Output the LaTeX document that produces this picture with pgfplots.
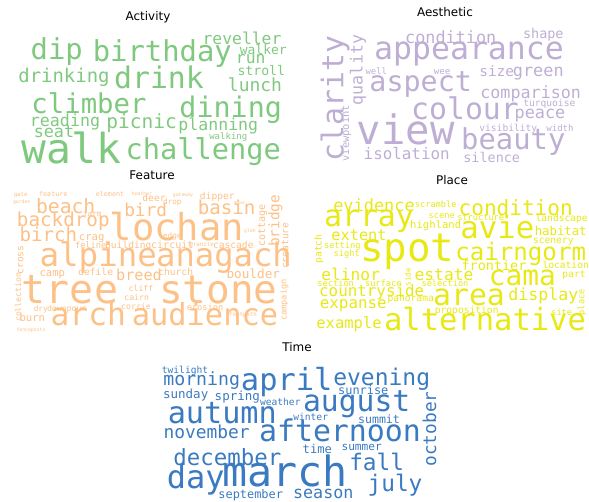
\documentclass[border=0pt]{standalone}
\usepackage{fontspec}
\setmainfont{DejaVu Sans}
\newfontfamily\wcfont{DejaVu Sans Mono}
\usepackage{pgfplots}
\usepackage{pgfplotstable}
\pgfplotsset{compat=1.18}
\definecolor{cA}{RGB}{127,201,127}
\definecolor{cB}{RGB}{190,174,212}
\definecolor{cC}{RGB}{253,192,134}
\definecolor{cD}{RGB}{232,232,20}
\definecolor{cE}{RGB}{58,122,192}

\pgfplotstableread{
x y s r w
56.7 60 30 0 dip
162.3 61.7 30 0 birthday
242 44.3 17 0 reveller
263.3 55 13.5 0 walker
250.7 64 17 0 run
64 82.3 19.7 0 drinking
159 88.3 31 0 drink
261.3 75.7 13.7 0 stroll
255 91.7 18.7 0 lunch
89 113.3 28.4 0 climber
230.7 117.7 29.5 0 dining
65 126.7 17.3 0 reading
141.7 128.3 20.3 0 picnic
218.3 131 17.2 0 planning
54 137.7 17.4 0 seat
228.3 140 9.4 0 walking
71.7 163.3 43 0 walk
203.3 160 29.8 0 challenge
}\tabActivity

\pgfplotstableread{
x y s r w
343.3 98.3 31 90 clarity
362.5 70 17.3 90 quality
450.7 43.3 17.5 0 condition
543.3 39 14 0 shape
469 60 32.8 0 appearance
376.3 75 9.2 0 well
442 75 9.5 0 wee
496.7 76.7 15 0 size
538.3 76.7 17.5 0 green
420.7 91.7 29.5 0 aspect
530.7 98.3 17.4 0 comparison
549.3 106.7 10 0 turquoise
465 120 31 0 colour
540 118.3 17.5 0 peace
349 133.3 10.8 90 viewpoint
405.7 145 42.2 0 view
508.3 131.7 10 0 visibility
560 131.7 9.4 0 width
513.3 150 30 0 beauty
406.7 160 16.5 0 isolation
491.7 162.3 14 0 silence
}\tabAesthetic

\pgfplotstableread{
x y s r w
176.7 240 38.6 0 lochan
65.7 213.3 20.5 0 beach
145.7 216.7 18.5 0 bird
226.7 214.3 19.9 0 basin
63.3 226.7 20 0 backdrop
48.3 241.7 19.9 0 birch
279.3 220.7 15 90 bridge
265 225.7 10.5 90 cottage
288.3 245.7 10 90 creature
98.3 266.7 33.8 0 alpine
224 266.7 33.5 0 anagach
91.7 240 11 0 crag
90.7 248.3 9 0 feline
128.3 248.3 10 0 building
172.3 248.3 10.5 0 circuit
233.3 248.3 10 0 cascade
23.3 260 10 90 cross
21 297.3 8.5 90 collection
52.3 276.7 11 0 camp
95.7 275.7 10 0 defile
139 280 15.8 0 breed
175.7 275 10 0 church
253.3 278.3 13.2 0 boulder
70 303.3 41.5 0 tree
218.3 303.3 40.9 0 stone
141 291 8.5 0 cliff
136.7 300 8.5 0 cairn
136 309 8.5 0 corrie
286.7 300 9 90 campaign
40.7 311 8 0 dry
66.7 311 8.5 0 downpour
205 310 9 0 erosion
32.3 321.7 11 0 burn
88.3 325 32.6 0 arch
205 325 31.6 0 audience
53.3 196.7 7 0 feature
110 196.7 7 0 element
154 201.7 10 0 deer
217.3 200 10 0 dipper
92.3 216.7 8 0 farm
172.3 238.3 8 0 edge
172.3 205 8 0 drop
20.7 197 6 0 gate
21.7 204 5 0 garden
142 196 5 0 heather
183 197 5 0 gateway
201.7 246.5 6 0 granite
31 331 5 0 fenceposts
243 316.7 6 0 footpath
240 205 5 0 moor
250 232 5 0 glen
}\tabFeature

\pgfplotstableread{
x y s r w
374 211.7 17.6 0 evidence
435.7 207.7 9 0 scramble
515.7 215 21.9 0 condition
369 226.7 31 0 array
441.7 218.3 9 0 scene
480.7 220 9 0 structure
435.7 228.3 11 0 highland
561.7 221.7 10 0 landscape
497.3 238.3 31.9 0 avie
560.7 235 12.8 0 habitat
359 240 15.9 0 extent
553.3 243.3 10 0 scenery
321.7 249 10 90 patch
342.3 248.3 9 0 setting
346.7 256.7 9 0 sight
407.3 261.7 40.7 0 spot
520.7 260 25.1 0 cairngorm
494 270 14 0 frontier
565.7 268.3 10 0 location
350.7 280 16.9 0 elinor
410.7 277.3 8 90 side
444 280 16.9 0 estate
522.3 285 28.9 0 cama
574 277.7 10 0 part
335.7 286.7 9 0 section
383.3 286.7 9 0 surface
445 286.7 9 0 selection
371.7 296.7 16.5 0 countryside
469 305 31 0 area
543.3 300 17.3 0 display
353.3 308.3 16.5 0 expanse
410.7 301.7 10 0 panorama
466.7 313.3 10 0 proposition
584.3 302.3 9 90 place
561.7 315 9 0 site
349 328.3 16.1 0 example
485 330 31.7 0 alternative
}\tabPlace

\pgfplotstableread{
x y s r w
185 373.3 10 0 twilight
201.7 385 18.9 0 morning
286.7 390 31.6 0 april
381.7 385 23.9 0 evening
185.7 398.3 13 0 sunday
237.3 400 13 0 spring
363.3 394.3 12.4 0 sunrise
280.3 405.7 10 0 weather
356.7 411.7 30.9 0 august
436 429 18.5 90 october
222.3 423.3 31.4 0 autumn
310.7 420 10 0 winter
379 423.3 12 0 summit
206.7 438.3 18.6 0 november
340 441.7 31.1 0 afternoon
317.3 453.3 12.6 0 time
361.7 450 11.6 0 summer
227.3 465 23.3 0 december
376.7 470 23.7 0 fall
195.7 488.3 33.3 0 day
285 486.7 43.3 0 march
395 491.7 23.7 0 july
323.3 498.3 17.4 0 season
250.7 498.3 12.4 0 september
}\tabTime

\pgfplotsset{
  wc/.style={
    scale only axis, width=589bp, height=502bp,
    xmin=0, xmax=589, ymin=0, ymax=502, y dir=reverse,
    axis lines=none, ticks=none, clip=false,
    at={(0,0)}, anchor=south west,
    title style={anchor=base, font=\fontsize{12}{14}\selectfont, inner sep=0pt},
  },
  words/.style={
    draw=none, mark=none, point meta=explicit symbolic,
    visualization depends on={0.965*\thisrow{s}\as\fs},
    visualization depends on={\thisrow{r}\as\rot},
    nodes near coords,
    nodes near coords style={anchor=base, inner sep=0pt,
      font=\wcfont\fontsize{\fs}{\fs}\selectfont, rotate=\rot, text=#1},
  },
}

\begin{document}
\begin{tikzpicture}
\begin{axis}[wc, title={Activity}, title style={at={(0.2513,0.9482)}}]
\addplot[words=cA] table[x=x, y=y, meta=w] {\tabActivity};
\end{axis}
\begin{axis}[wc, title={Aesthetic}, title style={at={(0.7555,0.9562)}}]
\addplot[words=cB] table[x=x, y=y, meta=w] {\tabAesthetic};
\end{axis}
\begin{axis}[wc, title={Feature}, title style={at={(0.2581,0.6315)}}]
\addplot[words=cC] table[x=x, y=y, meta=w] {\tabFeature};
\end{axis}
\begin{axis}[wc, title={Place}, title style={at={(0.7674,0.6215)}}]
\addplot[words=cD] table[x=x, y=y, meta=w] {\tabPlace};
\end{axis}
\begin{axis}[wc, title={Time}, title style={at={(0.5042,0.2888)}}]
\addplot[words=cE] table[x=x, y=y, meta=w] {\tabTime};
\end{axis}
\pgfresetboundingbox
\path[use as bounding box] (0,0) rectangle (589bp,502bp);
\end{tikzpicture}
\end{document}
